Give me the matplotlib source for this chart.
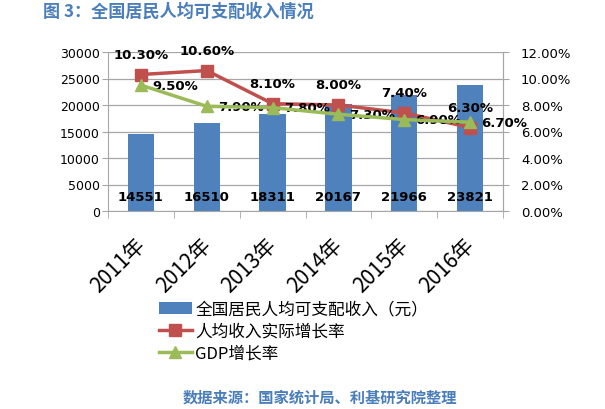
import matplotlib
matplotlib.use("Agg")
import matplotlib.pyplot as plt
import numpy as np
from matplotlib.ticker import FuncFormatter, FixedLocator
from matplotlib.transforms import ScaledTranslation

plt.rcParams['font.family'] = ['DejaVu Sans', 'Noto Sans CJK SC']

years = ["2011年", "2012年", "2013年", "2014年", "2015年", "2016年"]
income = [14551, 16510, 18311, 20167, 21966, 23821]
real_growth = [10.30, 10.60, 8.10, 8.00, 7.40, 6.30]
gdp_growth = [9.50, 7.90, 7.80, 7.30, 6.90, 6.70]

BLUE = '#4F81BD'
RED = '#C0504D'
GREEN = '#9BBB59'
TITLE_BLUE = '#4A7EBB'
CJK = ['Noto Sans CJK SC', 'DejaVu Sans']

fig = plt.figure(figsize=(6.05, 4.10), dpi=100)
ax = fig.add_axes([108/605, 1-212/410, (503-108)/605, (212-53)/410])
x = np.arange(len(years))

bars = ax.bar(x, income, width=0.4, color=BLUE, zorder=2, label='全国居民人均可支配收入（元）')
ax.set_ylim(0, 30000)
ax.set_xlim(-0.5, len(years)-0.5)
ax.set_yticks(np.arange(0, 30001, 5000))
ax.yaxis.grid(True, color='#A6A6A6', linewidth=0.9, zorder=0)
ax.set_axisbelow(True)
ax.spines['top'].set_visible(False)
for s in ['left', 'bottom', 'right']:
    ax.spines[s].set_color('#A6A6A6')
ax.tick_params(axis='y', labelsize=9, length=4, color='#A6A6A6', pad=2)
ax.set_xticks(x)
ax.set_xticklabels(years, rotation=45, ha='right', va='top', rotation_mode='anchor',
                   fontsize=15, family=CJK)
ax.tick_params(axis='x', which='major', length=0, pad=16)
shift = ScaledTranslation(-0.07, 0, fig.dpi_scale_trans)
for lab in ax.get_xticklabels():
    lab.set_transform(lab.get_transform() + shift)
ax.xaxis.set_minor_locator(FixedLocator(np.arange(-0.5, len(years), 1)))
ax.tick_params(axis='x', which='minor', length=5, color='#A6A6A6')

for xi, v in zip(x, income):
    ax.text(xi, 2800, str(v), ha='center', va='center', fontsize=9.5,
            fontweight='bold', color='black', zorder=5)

ax2 = ax.twinx()
ax2.set_ylim(0, 12)
ax2.set_yticks(np.arange(0, 12.01, 2))
ax2.yaxis.set_major_formatter(FuncFormatter(lambda v, p: f"{v:.2f}%"))
ax2.tick_params(axis='y', labelsize=9.5, length=4, color='#A6A6A6', pad=9)
for s in ['top', 'left', 'bottom']:
    ax2.spines[s].set_visible(False)
ax2.spines['right'].set_color('#A6A6A6')

l1, = ax2.plot(x, real_growth, color=RED, linewidth=2.5, marker='s', markersize=8,
               zorder=3, label='人均收入实际增长率')
l2, = ax2.plot(x, gdp_growth, color=GREEN, linewidth=2.5, marker='^', markersize=8,
               zorder=4, label='GDP增长率')

for xi, v in zip(x, real_growth):
    ax2.annotate(f"{v:.2f}%", (xi, v), xytext=(0, 10), textcoords='offset points',
                 ha='center', va='bottom', fontsize=9.5, fontweight='bold', color='black')
for xi, v in zip(x, gdp_growth):
    ax2.annotate(f"{v:.2f}%", (xi, v), xytext=(8, 0), textcoords='offset points',
                 ha='left', va='center', fontsize=9.5, fontweight='bold', color='black')

fig.text(43/605, 1-12/410, '图 3：全国居民人均可支配收入情况', ha='left', va='center',
         fontsize=12.3, fontweight='bold', color=TITLE_BLUE, family=CJK)
fig.text(183/605, 1-398/410, '数据来源：国家统计局、利基研究院整理', ha='left', va='center',
         fontsize=11, fontweight='bold', color=TITLE_BLUE, family=CJK)

leg = fig.legend(handles=[bars, l1, l2], loc='upper left',
                 bbox_to_anchor=(152/605, 1-295/410), frameon=False,
                 prop={'family': CJK, 'size': 12}, handlelength=2.0,
                 handletextpad=0.2, labelspacing=0.3, borderaxespad=0)

fig.savefig('out.png', dpi=100)
